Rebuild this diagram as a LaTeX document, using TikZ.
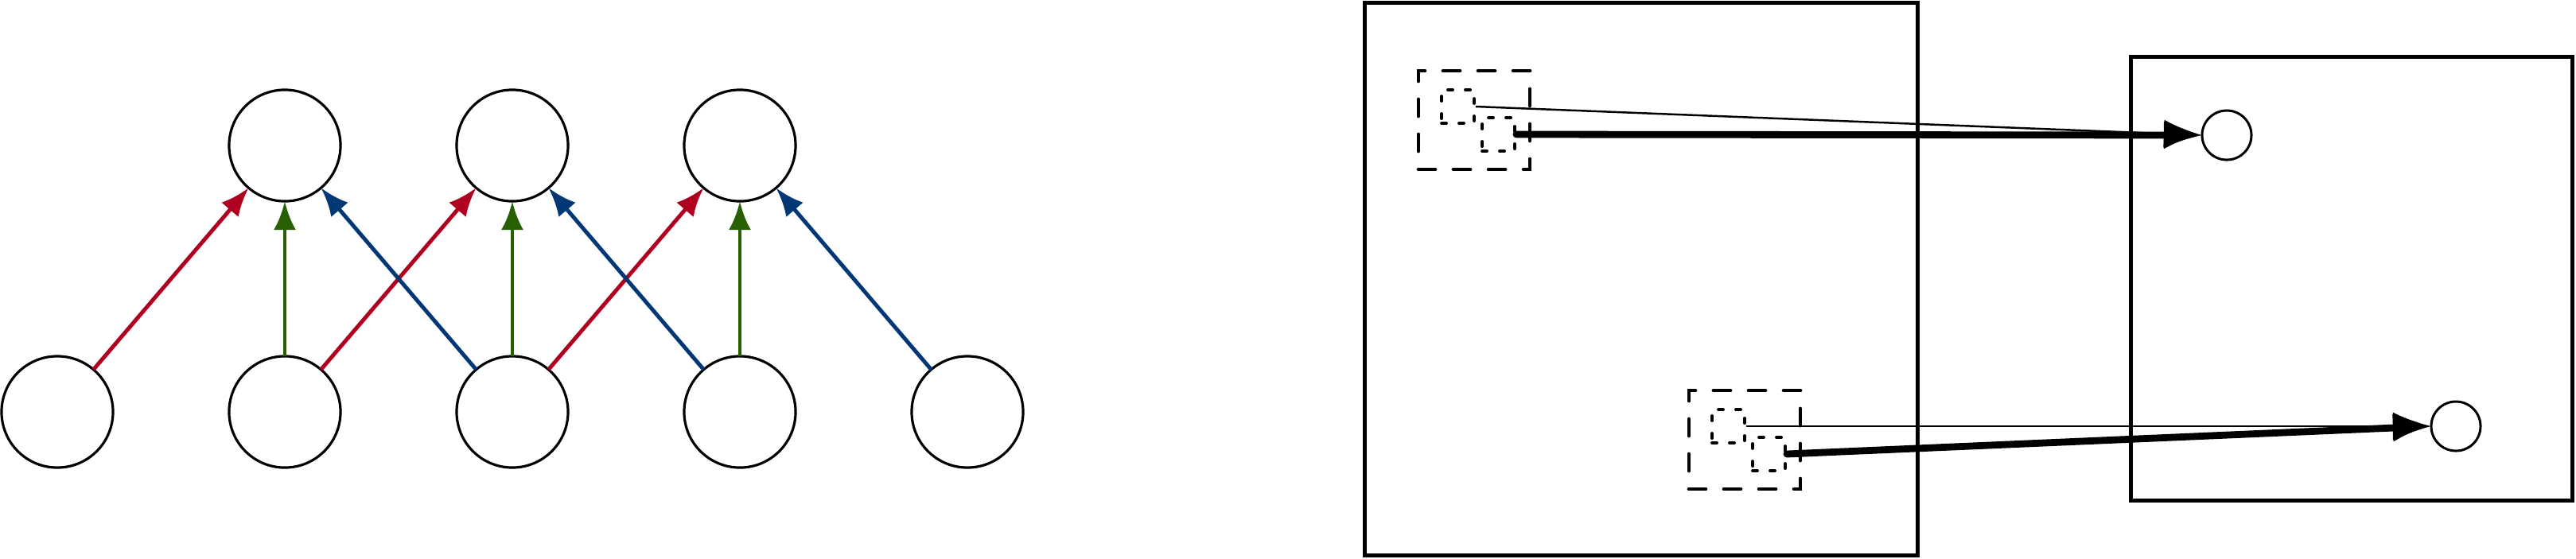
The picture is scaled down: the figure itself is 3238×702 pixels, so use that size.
\documentclass[tikz,border=0pt]{standalone}
\usetikzlibrary{arrows.meta}
\definecolor{cred}{RGB}{175,0,32}
\definecolor{cgreen}{RGB}{38,96,0}
\definecolor{cblue}{RGB}{0,56,117}
\begin{document}
\begin{tikzpicture}[x=0.01cm,y=-0.01cm,
  neuron/.style={circle,draw,line width=0.9pt,minimum size=1.4cm,inner sep=0pt,outer sep=0pt},
  conn/.style={line width=1.4pt,-{Latex[length=3.6mm,width=2.8mm]}},
  frame/.style={draw,line width=1.45pt,inner sep=0pt},
  outerbox/.style={draw,line width=1.35pt,line cap=round,dash pattern=on 2.1mm off 2.3mm,minimum width=1.4cm,minimum height=1.24cm,inner sep=0pt},
  innerbox/.style={draw,line width=1.1pt,line cap=round,dash pattern=on 0.6mm off 1.6mm,minimum width=0.41cm,minimum height=0.42cm,inner sep=0pt},
  target/.style={circle,draw,line width=0.85pt,minimum size=0.62cm,inner sep=0pt,outer sep=0pt},
  thinarrow/.style={line width=0.7pt,-{Latex[length=4.8mm,width=3.5mm]}},
  thickarrow/.style={line width=2.5pt,line cap=round,-{Latex[length=4.8mm,width=3.5mm]}}
]
\useasboundingbox (0,0) rectangle (3238,702);
% left: convolution-like graph
\node[neuron] (b1) at (72,518) {};
\node[neuron] (b2) at (358,518) {};
\node[neuron] (b3) at (644,518) {};
\node[neuron] (b4) at (930,518) {};
\node[neuron] (b5) at (1216,518) {};
\node[neuron] (t1) at (358,183) {};
\node[neuron] (t2) at (644,183) {};
\node[neuron] (t3) at (930,183) {};
\draw[conn,cred] (b1) -- (t1);
\draw[conn,cred] (b2) -- (t2);
\draw[conn,cred] (b3) -- (t3);
\draw[conn,cgreen] (b2) -- (t1);
\draw[conn,cgreen] (b3) -- (t2);
\draw[conn,cgreen] (b4) -- (t3);
\draw[conn,cblue] (b3) -- (t1);
\draw[conn,cblue] (b4) -- (t2);
\draw[conn,cblue] (b5) -- (t3);
% right: two frames
\node[frame,minimum width=6.94cm,minimum height=6.94cm] (L) at (2063,351) {};
\node[frame,minimum width=5.54cm,minimum height=5.57cm] (R) at (2956,350.5) {};
% top group
\node[outerbox] (o1) at (1853,151) {};
\node[innerbox] (p1) at (1832.5,134) {};
\node[innerbox] (q1) at (1883.5,169) {};
\node[target] (c1) at (2799,170) {};
\draw[thinarrow] (p1.east) -- (c1.west);
\draw[thickarrow] (q1.east) -- (c1.west);
% bottom group
\node[outerbox] (o2) at (2193,553) {};
\node[innerbox] (p2) at (2172.5,536) {};
\node[innerbox] (q2) at (2223.5,571) {};
\node[target] (c2) at (3087,536) {};
\draw[thinarrow] (p2.east) -- (c2.west);
\draw[thickarrow] (q2.east) -- (c2.west);
\end{tikzpicture}
\end{document}
